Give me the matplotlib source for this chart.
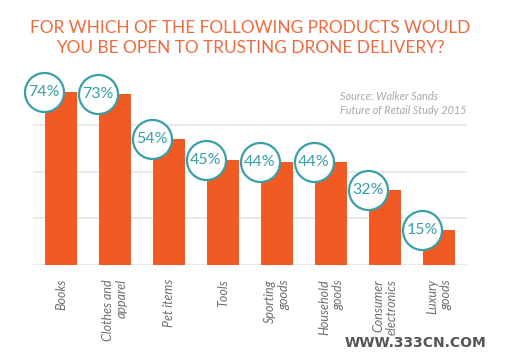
import numpy as np
import matplotlib.pyplot as plt

categories = ['Books', 'Clothes and\napparel', 'Pet items', 'Tools', 'Sporting\ngoods',
              'Household\ngoods', 'Consumer\nelectronics', 'Luxury\ngoods']
values = [74, 73, 54, 45, 44, 44, 32, 15]
gridlines = [0, 20, 40, 60]

orange = '#f15a22'
teal = '#3a9fa6'

fig = plt.figure(figsize=(5.09, 3.61), dpi=100)
ax = fig.add_axes([33/509, 96/361, 434/509, 187/361])

x = np.arange(len(values))
w = 0.59
ax.bar(x, values, width=w, color=orange, zorder=2)
for g in gridlines:
    ax.axhline(g, color='#e6e6e6', lw=1.2, zorder=0)

# value bubbles on the top-left corner of each bar
cx = x - w/2 - 0.02
ax.scatter(cx, values, s=790, facecolor='white', edgecolor=teal, linewidth=1.6,
           zorder=3, clip_on=False)
for xi, v in zip(cx, values):
    ax.text(xi, v, f'{v}%', ha='center', va='center', color=teal, fontsize=11.5,
            family='Lato', zorder=4)

ax.set_xlim(-0.52, 7.52)
ax.set_ylim(0, 80)
ax.set_yticks([])
ax.set_xticks(x)
ax.set_xticklabels(categories, rotation=90, ha='center', va='top', multialignment='right',
                   fontsize=9, family='Lato', style='italic', color='#6e6e6e')
ax.tick_params(axis='x', length=0, pad=10)
for s in ax.spines.values():
    s.set_visible(False)

fig.text(250/509, 1 - 28/361, 'FOR WHICH OF THE FOLLOWING PRODUCTS WOULD',
         ha='center', va='center', color='#ee6a3c', fontsize=12.4, family='Lato')
fig.text(250/509, 1 - 48/361, 'YOU BE OPEN TO TRUSTING DRONE DELIVERY?',
         ha='center', va='center', color='#ee6a3c', fontsize=12.4, family='Lato')

fig.text(340/509, 1 - 96/361, 'Source: Walker Sands', ha='left', va='center',
         color='#a8a8a8', fontsize=7.8, family='Lato', style='italic')
fig.text(340/509, 1 - 110/361, 'Future of Retail Study 2015', ha='left', va='center',
         color='#a8a8a8', fontsize=7.8, family='Lato', style='italic')

fig.text(415/509, 1 - 343/361, 'WWW.333CN.COM', ha='center', va='center',
         color='#555555', fontsize=10, fontweight='bold', family='DejaVu Sans')

fig.savefig('out.png', dpi=100)
